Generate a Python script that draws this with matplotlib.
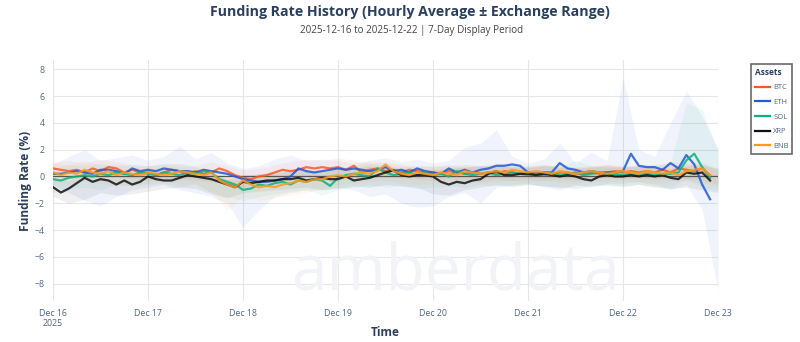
import matplotlib
matplotlib.use("Agg")
import matplotlib.pyplot as plt
import numpy as np
import pandas as pd

# hourly averages sampled every 2 hours, Dec 16 00:00 -> Dec 22 22:00
btc = [0.6, 0.5, 0.4, 0.5, 0.3, 0.6, 0.4, 0.7, 0.6, 0.3, 0.5, 0.3,
       0.3, 0.1, 0.3, 0.5, 0.4, 0.2, 0.4, 0.2, 0.3, 0.6, 0.4, 0.1,
       -0.1, -0.2, 0.0, 0.1, 0.3, 0.5, 0.4, 0.5, 0.7, 0.6, 0.7, 0.6,
       0.7, 0.5, 0.8, 0.3, 0.5, 0.6, 0.4, 0.5, 0.3, 0.5, 0.4, 0.3,
       0.3, 0.2, 0.4, 0.3, 0.2, 0.3, 0.2, 0.3, 0.2, 0.4, 0.3, 0.2,
       0.3, 0.2, 0.3, 0.2, 0.3, 0.3, 0.2, 0.2, 0.3, 0.2, 0.3, 0.4,
       0.3, 0.4, 0.3, 0.4, 0.3, 0.5, 0.3, 0.6, 0.5, 0.4, 0.6, 0.1]
eth = [0.2, 0.2, 0.3, 0.4, 0.3, 0.2, 0.5, 0.5, 0.4, 0.2, 0.6, 0.4,
       0.5, 0.4, 0.6, 0.5, 0.4, 0.4, 0.3, 0.5, 0.4, 0.3, 0.2, 0.0,
       -0.2, -0.3, -0.4, -0.4, -0.3, -0.2, 0.0, 0.6, 0.4, 0.3, 0.4, 0.5,
       0.6, 0.5, 0.6, 0.5, 0.4, 0.5, 0.7, 0.4, 0.5, 0.3, 0.6, 0.4,
       0.3, 0.2, 0.6, 0.3, 0.5, 0.3, 0.5, 0.6, 0.8, 0.8, 0.9, 0.8,
       0.3, 0.2, 0.3, 0.3, 1.0, 0.6, 0.5, 0.3, 0.4, 0.3, 0.3, 0.3,
       0.4, 1.7, 0.8, 0.7, 0.7, 0.5, 1.0, 0.6, 1.6, 0.9, -0.6, -1.7]
sol = [-0.2, -0.3, -0.1, 0.0, 0.1, 0.0, 0.2, 0.1, 0.3, 0.2, 0.1, 0.3,
       0.2, 0.1, 0.3, 0.2, 0.1, 0.3, 0.2, 0.4, 0.3, -0.2, -0.4, -0.6,
       -1.0, -0.9, -0.6, -0.7, -0.5, -0.4, -0.6, -0.3, -0.4, -0.2, -0.3, -0.7,
       -0.1, 0.1, 0.2, 0.1, 0.0, 0.6, 0.3, 0.1, 0.2, 0.3, 0.1, 0.3,
       0.1, 0.2, 0.0, 0.4, 0.2, 0.1, 0.2, 0.3, 0.1, 0.2, 0.3, 0.2,
       0.1, 0.2, 0.1, 0.3, 0.1, 0.2, 0.3, 0.1, 0.2, 0.3, 0.1, 0.2,
       0.1, 0.2, 0.1, 0.2, 0.1, 0.2, 0.2, 0.3, 1.2, 1.7, 0.7, -0.1]
xrp = [-0.8, -1.2, -0.9, -0.5, -0.1, -0.4, -0.2, -0.3, -0.6, -0.3, -0.6, -0.4,
       0.0, -0.2, -0.3, -0.3, -0.1, 0.1, 0.0, -0.1, -0.2, -0.4, -0.6, -0.8,
       -0.4, -0.5, -0.4, -0.3, -0.3, -0.2, -0.2, -0.1, -0.3, -0.2, -0.1, -0.2,
       -0.2, 0.0, -0.3, -0.2, -0.1, 0.1, 0.3, 0.45, 0.1, 0.0, 0.1, 0.1,
       0.0, -0.4, -0.6, -0.4, -0.5, -0.3, -0.2, 0.2, 0.4, 0.1, 0.1, 0.2,
       0.2, 0.1, 0.2, 0.1, 0.0, 0.1, 0.0, -0.2, -0.3, 0.0, 0.1, 0.0,
       0.0, 0.1, 0.0, 0.1, 0.0, 0.1, -0.1, -0.2, 0.3, 0.2, 0.3, -0.3]
bnb = [0.3, 0.1, 0.3, 0.2, 0.5, 0.3, 0.2, 0.4, 0.1, 0.3, 0.2, 0.1,
       0.3, 0.2, 0.1, 0.2, 0.4, 0.3, 0.2, 0.1, 0.3, -0.3, -0.6, -0.8,
       -0.3, -0.6, -0.8, -0.7, -0.8, -0.6, -0.5, -0.3, -0.4, -0.2, -0.2, 0.0,
       0.1, 0.0, 0.2, 0.3, 0.2, 0.4, 0.9, 0.4, 0.2, 0.1, 0.3, 0.2,
       0.1, 0.3, 0.2, 0.1, 0.4, 0.3, 0.2, 0.3, 0.4, 0.3, 0.5, 0.4,
       0.3, 0.4, 0.3, 0.2, 0.4, 0.3, 0.2, 0.3, 0.4, 0.3, 0.2, 0.3,
       0.4, 0.3, 0.2, 0.4, 0.3, 0.2, 0.3, 0.1, 0.4, 0.5, 0.6, 0.1]

# exchange min / max, sampled every 4 hours, Dec 16 00:00 -> Dec 23 00:00
btc_hi = [1.1, 1.2, 1.0, 1.3, 1.1, 0.9, 0.8, 0.9, 1.0, 0.8, 1.1, 0.8,
          0.5, 0.6, 0.9, 1.1, 1.3, 1.2, 1.4, 1.2, 1.0, 1.1, 0.9, 0.8,
          0.8, 0.9, 0.7, 0.8, 0.9, 0.8, 0.7, 0.8, 0.9, 0.7, 0.8, 0.9,
          0.8, 0.9, 0.8, 1.1, 1.0, 0.9, 0.5]
btc_lo = [0.0, -0.2, 0.0, -0.1, 0.1, -0.2, -0.3, -0.1, -0.2, -0.3, -0.4, -0.6,
          -0.8, -0.6, -0.3, -0.2, 0.0, 0.1, 0.0, -0.1, -0.2, 0.0, -0.1, -0.2,
          -0.3, -0.2, -0.3, -0.4, -0.2, -0.3, -0.2, -0.3, -0.2, -0.3, -0.2, -0.1,
          -0.2, -0.1, -0.2, -0.1, -0.2, -0.3, -0.6]
eth_hi = [0.9, 1.5, 2.0, 1.2, 1.4, 1.6, 1.2, 1.5, 2.3, 1.3, 1.8, 1.0,
          0.6, 0.8, 1.3, 1.6, 1.2, 1.3, 1.2, 1.0, 1.2, 1.4, 1.1, 1.3,
          1.0, 1.2, 2.2, 2.5, 3.5, 1.5, 1.0, 1.3, 2.5, 1.0, 1.8, 1.2,
          7.4, 2.0, 1.5, 4.0, 6.4, 4.5, 2.0]
eth_lo = [-0.6, -1.2, -1.8, -2.2, -1.5, -1.0, -0.8, -0.6, -1.0, -1.2, -1.5, -2.0,
          -3.8, -2.5, -1.5, -1.2, -1.0, -1.0, -0.8, -1.0, -1.5, -1.3, -2.0, -2.3,
          -2.2, -1.5, -1.2, -2.0, -0.8, -0.6, -0.5, -0.8, -1.0, -0.6, -0.8, -0.5,
          -0.5, -0.4, -0.6, -1.0, -0.6, -2.5, -8.5]
sol_hi = [0.6, 0.9, 0.8, 1.0, 0.8, 0.9, 0.8, 1.0, 0.9, 0.7, 0.3, -0.2,
          -0.3, 0.2, 0.3, 0.5, 0.4, 0.2, 0.6, 0.8, 1.0, 0.8, 0.7, 0.8,
          0.7, 0.8, 0.9, 0.8, 0.7, 0.8, 0.8, 0.9, 0.7, 1.2, 0.8, 0.7,
          0.7, 0.8, 0.9, 1.0, 5.5, 5.0, 2.0]
sol_lo = [-1.2, -0.9, -0.8, -1.0, -0.6, -0.7, -0.6, -0.5, -0.8, -0.6, -1.2, -1.5,
          -1.8, -1.5, -1.3, -1.1, -1.0, -1.4, -1.0, -0.8, -0.6, -0.8, -0.7, -0.9,
          -0.8, -0.7, -0.8, -0.6, -0.7, -0.8, -0.6, -0.7, -0.8, -0.7, -0.6, -0.7,
          -0.8, -0.6, -0.7, -0.8, -0.2, -0.8, -1.0]
xrp_hi = [-0.2, -0.3, 0.4, 0.5, 0.3, 0.2, 0.4, 0.6, 0.5, 0.4, 0.2, -0.2,
          0.1, 0.2, 0.3, 0.4, 0.5, 0.4, 0.5, 0.6, 0.8, 0.7, 0.6, 0.6,
          0.5, 0.6, 0.7, 0.8, 0.8, 0.7, 0.7, 0.8, 0.7, 0.6, 0.7, 0.8,
          0.7, 0.8, 0.7, 0.6, 0.8, 0.9, 0.6]
xrp_lo = [-1.5, -2.0, -1.7, -1.2, -1.4, -1.3, -1.1, -0.9, -0.8, -0.9, -1.3, -1.6,
          -1.2, -1.1, -1.0, -0.9, -0.8, -1.0, -0.9, -0.7, -0.8, -0.6, -0.7, -0.8,
          -1.3, -1.4, -1.0, -0.8, -0.6, -0.7, -0.6, -0.7, -0.8, -0.9, -0.7, -0.6,
          -0.7, -0.6, -0.8, -0.9, -0.8, -1.0, -1.2]
bnb_hi = [1.0, 0.9, 1.2, 0.8, 0.9, 0.7, 0.8, 0.9, 0.7, 0.8, 0.4, 0.0,
          0.2, -0.1, 0.0, 0.3, 0.4, 0.6, 0.7, 0.8, 1.2, 1.0, 0.8, 0.7,
          0.8, 0.7, 0.9, 0.8, 1.0, 0.9, 0.8, 0.9, 0.8, 0.7, 0.8, 0.9,
          0.8, 0.7, 0.9, 0.8, 1.0, 1.1, 0.6]
bnb_lo = [-0.4, -0.6, -0.3, -0.5, -0.7, -0.6, -0.5, -0.3, -0.6, -0.5, -1.2, -2.5,
          -1.5, -1.8, -1.6, -1.4, -1.2, -0.9, -0.6, -0.5, -0.4, -0.3, -0.5, -0.6,
          -0.5, -0.4, -0.3, -0.5, -0.4, -0.3, -0.4, -0.3, -0.4, -0.5, -0.3, -0.4,
          -0.3, -0.4, -0.5, -0.4, -0.3, -0.5, -0.7]

assets = ["BTC", "ETH", "SOL", "XRP", "BNB"]
colors = ["#ff5722", "#2159d6", "#10b07a", "#111111", "#ff9a1a"]
tick_days = ["2025-12-16", "2025-12-17", "2025-12-18", "2025-12-19",
             "2025-12-20", "2025-12-21", "2025-12-22", "2025-12-23"]
tick_labels = ["Dec 16\n2025", "Dec 17", "Dec 18", "Dec 19",
               "Dec 20", "Dec 21", "Dec 22", "Dec 23"]
y_ticks = [-8, -6, -4, -2, 0, 2, 4, 6, 8]

times = pd.date_range("2025-12-16", periods=len(btc), freq="2h")
band_times = pd.date_range("2025-12-16", periods=len(btc_hi), freq="4h")

plt.rcParams["font.family"] = ["Open Sans", "DejaVu Sans"]

fig = plt.figure(figsize=(8, 3.42), dpi=100)
ax = fig.add_axes([53 / 800, 1 - 301 / 342, 665 / 800, 241 / 342])

navy = "#2a3f5f"
fig.text(410 / 800, 1 - 12 / 342, "Funding Rate History (Hourly Average \u00b1 Exchange Range)",
         ha="center", va="center", fontsize=10.2, fontweight="bold", color=navy)
fig.text(412 / 800, 1 - 31 / 342, "2025-12-16 to 2025-12-22 | 7-Day Display Period",
         ha="center", va="center", fontsize=7.1, color="#444444")

# faint watermark
fig.text(455 / 800, 1 - 304 / 342, "amberdata", ha="center", va="bottom",
         fontsize=46, color="#f2f3f6", zorder=0)

series = [btc, eth, sol, xrp, bnb]
bands = [(btc_lo, btc_hi), (eth_lo, eth_hi), (sol_lo, sol_hi),
         (xrp_lo, xrp_hi), (bnb_lo, bnb_hi)]

for (lo, hi), c in zip(bands, colors):
    ax.fill_between(band_times, lo, hi, color=c, alpha=0.065, linewidth=0, zorder=1)

for name, vals, c in zip(assets, series, colors):
    ax.plot(times, vals, color=c, linewidth=1.6, alpha=0.85, label=name, zorder=3)

ax.axhline(0, color="#555555", linewidth=0.9, zorder=2)

ax.set_xlim(pd.Timestamp(tick_days[0]), pd.Timestamp(tick_days[-1]))
ax.set_ylim(-9.3, 8.7)
ax.set_xticks(pd.to_datetime(tick_days))
ax.set_xticklabels(tick_labels)
ax.set_yticks(y_ticks)
ax.tick_params(axis="both", length=0, labelsize=6.3, labelcolor="#506784", pad=6)
for lab in ax.get_xticklabels():
    lab.set_verticalalignment("top")
    lab.set_linespacing(1.1)

ax.grid(True, color="#e6e6e6", linewidth=0.8)
ax.set_axisbelow(True)
for s in ax.spines.values():
    s.set_visible(False)
ax.set_facecolor("none")

ax.set_ylabel("Funding Rate (%)", fontsize=8.6, fontweight="bold", color=navy, labelpad=2)
fig.text(385 / 800, 1 - 333 / 342, "Time", ha="center", va="center",
         fontsize=8.5, fontweight="bold", color=navy)

leg = fig.legend(loc="upper left", bbox_to_anchor=(751 / 800, 1 - 64 / 342),
                 title="Assets", fontsize=5.5, frameon=True, fancybox=False,
                 handlelength=2.0, labelspacing=0.95, borderpad=0.5,
                 handletextpad=0.4, borderaxespad=0)
leg.get_title().set_fontweight("bold")
leg.get_title().set_fontsize(6)
leg.get_title().set_color(navy)
leg._legend_box.align = "left"
frame = leg.get_frame()
frame.set_edgecolor("#444444")
frame.set_linewidth(1.2)
for t in leg.get_texts():
    t.set_color("#506784")
for line in leg.get_lines():
    line.set_alpha(1)
    line.set_linewidth(1.6)

fig.savefig("out.png", dpi=100)
